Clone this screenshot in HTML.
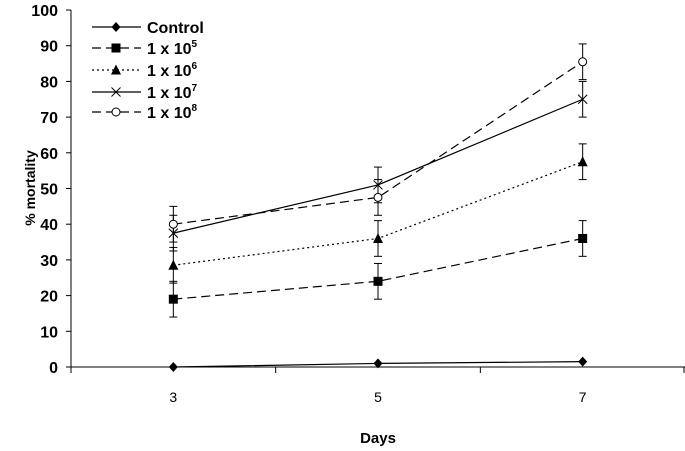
<!DOCTYPE html>
<html><head><meta charset="utf-8"><style>
body{margin:0;background:#fff;}
svg text{font-family:"Liberation Sans",Arial,sans-serif;font-weight:bold;fill:#000;}
</style></head><body>
<svg id="chart" width="685" height="446" viewBox="0 0 685 446" xmlns="http://www.w3.org/2000/svg"></svg>
<script>
const categories=["3","5","7"];
const yTicks=[0,10,20,30,40,50,60,70,80,90,100];
const seriesNames=["Control","1 x 10","1 x 10","1 x 10","1 x 10"];
const seriesExp=["","5","6","7","8"];
const control=[0,1,1.5];
const s1e5=[19,24,36];
const s1e6=[28.5,36,57.5];
const s1e7=[37.5,51,75];
const s1e8=[40,47.5,85.5];
const err1e5=[5,5,5];
const err1e6=[5,5,5];
const err1e7=[5,5,5];
const err1e8=[5,5,5];
const NS="http://www.w3.org/2000/svg";
const svg=document.getElementById('chart');
const x0=71,x1=685,yb=367,yt=10;
function xs(i){return x0+(i+0.5)*(x1-x0)/categories.length;}
function ys(v){return yb-(v/100)*(yb-yt);}
function mk(t,a,p){const e=document.createElementNS(NS,t);for(const k in a)e.setAttribute(k,a[k]);(p||svg).appendChild(e);return e;}
let ax=mk('line',{x1:x0,y1:yt,x2:x0,y2:yb,stroke:'#000','stroke-width':1});

let bx=mk('line',{x1:x0,y1:yb,x2:x1,y2:yb,stroke:'#000','stroke-width':1});

yTicks.forEach(v=>{
 mk('line',{x1:x0-5,y1:ys(v),x2:x0,y2:ys(v),stroke:'#000'});
 const t=mk('text',{x:x0-13,y:ys(v)+6,'text-anchor':'end','font-size':16});t.textContent=v;
 
});
for(let i=0;i<=categories.length;i++){const xx=x0+i*(x1-x0)/categories.length;mk('line',{x1:Math.min(xx,684),y1:yb,x2:Math.min(xx,684),y2:yb+6,stroke:'#000'});}
categories.forEach((c,i)=>{const t=mk('text',{x:xs(i),y:402,'text-anchor':'middle','font-size':14});t.style.fontWeight='normal';t.textContent=c;
 });
let xt=mk('text',{x:378,y:443,'text-anchor':'middle','font-size':15});xt.textContent='Days';

let yl=mk('text',{x:0,y:0,'text-anchor':'middle','font-size':14,transform:'translate(35,188) rotate(-90)'});yl.textContent='% mortality';

const styles=[
 {d:'',m:'diamond'},{d:'9,5',m:'square'},{d:'2,3',m:'triangle'},{d:'',m:'x'},{d:'9,5',m:'circle'}];
function marker(type,x,y,g){
 if(type==='diamond')mk('polygon',{points:`${x},${y-5} ${x+4.5},${y} ${x},${y+5} ${x-4.5},${y}`,fill:'#000'},g);
 if(type==='square')mk('rect',{x:x-4.5,y:y-4.5,width:9,height:9,fill:'#000'},g);
 if(type==='triangle')mk('polygon',{points:`${x},${y-5.5} ${x+5},${y+4.5} ${x-5},${y+4.5}`,fill:'#000'},g);
 if(type==='x'){mk('line',{x1:x-4.5,y1:y-4.5,x2:x+4.5,y2:y+4.5,stroke:'#000'},g);mk('line',{x1:x-4.5,y1:y+4.5,x2:x+4.5,y2:y-4.5,stroke:'#000'},g);}
 if(type==='circle')mk('circle',{cx:x,cy:y,r:4,fill:'#fff',stroke:'#000'},g);
}
const data=[control,s1e5,s1e6,s1e7,s1e8];
const errs=[null,err1e5,err1e6,err1e7,err1e8];
const names=['control','1e5','1e6','1e7','1e8'];
data.forEach((arr,k)=>{
 const g=mk('g',{});
 
 const pts=arr.map((v,i)=>xs(i)+','+ys(v)).join(' ');
 const pl=mk('polyline',{points:pts,fill:'none',stroke:'#000','stroke-width':1.2,'stroke-dasharray':styles[k].d},g);
 
 arr.forEach((v,i)=>{
  if(errs[k]){const e=errs[k][i],x=xs(i);
   mk('line',{x1:x,y1:ys(v-e),x2:x,y2:ys(v+e),stroke:'#000'},g);
   mk('line',{x1:x-4,y1:ys(v-e),x2:x+4,y2:ys(v-e),stroke:'#000'},g);
   mk('line',{x1:x-4,y1:ys(v+e),x2:x+4,y2:ys(v+e),stroke:'#000'},g);}
  marker(styles[k].m,xs(i),ys(v),g);
 });
});
const lg=mk('g',{});
const rowsY=[27,48,70,92,112];
seriesNames.forEach((n,k)=>{
 const g=mk('g',{},lg);
 const y=rowsY[k];
 mk('line',{x1:92,y1:y,x2:141,y2:y,stroke:'#000','stroke-width':1.2,'stroke-dasharray':styles[k].d},g);
 marker(styles[k].m,116,y,g);
 const t=mk('text',{x:147,y:y+6,'font-size':16},g);t.textContent=n;
 if(seriesExp[k]){const s=mk('tspan',{'font-size':10,dy:-7},t);s.textContent=seriesExp[k];}
});
</script>
</body></html>
